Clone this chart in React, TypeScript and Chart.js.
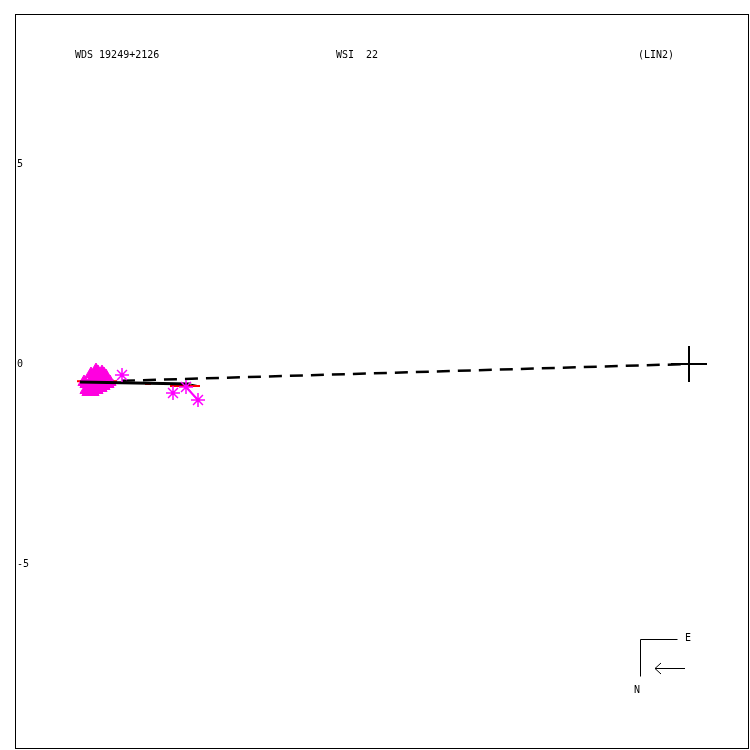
import React, { useEffect, useRef } from "react";
import { Chart, registerables } from "chart.js";

Chart.register(...registerables);

// Units: arcsec offsets relative to the primary (x = East offset, plotted reversed)
const titleLeft = "WDS 19249+2126";
const titleMid = "WSI  22";
const titleRight = "(LIN2)";
const yTickValues = [5, 0, -5];
const yTickLabels = ["5", "0", "-5"];

const xRange = [-1.475, 16.85];
const yRange = [-9.6, 8.75];

const triangleX = [15.075, 15.025, 14.975, 14.925, 14.875, 14.825, 14.775, 14.725, 14.675, 14.625, 14.575, 14.525, 14.475, 14.975, 14.875, 14.775, 15.025, 15.075, 14.725, 14.625, 15.125, 14.825, 14.925, 14.575, 14.9, 14.8, 14.7, 14.95];
const triangleY = [-0.5, -0.65, -0.55, -0.4, -0.3, -0.15, -0.2, -0.35, -0.2, -0.25, -0.4, -0.5, -0.45, -0.6, -0.55, -0.5, -0.7, -0.65, -0.55, -0.55, -0.45, -0.4, -0.45, -0.3, -0.7, -0.65, -0.6, -0.25];

const starX = [14.175, 12.9, 12.575, 12.275];
const starY = [-0.275, -0.725, -0.575, -0.9];

const primaryX = [0];
const primaryY = [0];

const dashedX = [15.225, 0];
const dashedY = [-0.45, 0];

const fitX = [15.225, 12.475];
const fitY = [-0.45, -0.5];
const fitTailX = [12.475, 12.225];
const fitTailY = [-0.5, -0.55];

const residualSegments: number[][] = [
  [15.3, -0.43, 14.925, -0.43],
  [14.55, -0.43, 14.3, -0.43],
  [14.45, -0.35, 14.45, -0.6],
  [12.975, -0.55, 12.225, -0.55],
  [13.6, -0.5, 13.45, -0.5],
];
const magentaSegments: number[][] = [[12.575, -0.575, 12.275, -0.9]];

const compass = { corner: [640, 639], len: 37, arrowFrom: [685, 668], arrowTo: [655, 668] };

function xy(xs: number[], ys: number[]) {
  return xs.map((x, i) => ({ x, y: ys[i] }));
}

export default function App() {
  const ref = useRef<HTMLCanvasElement | null>(null);
  useEffect(() => {
    document.body.style.margin = "0";
    const canvas = ref.current!;
    const datasets: any[] = [
      {
        type: "line",
        data: xy(dashedX, dashedY),
        borderColor: "#000",
        borderWidth: 2.5,
        borderDash: [13, 8],
        pointRadius: 0,
        showLine: true,
        order: 5,
      },
      {
        type: "line",
        data: xy(fitX, fitY),
        borderColor: "#000",
        borderWidth: 3,
        pointRadius: 0,
        showLine: true,
        order: 1,
      },
      {
        type: "line",
        data: xy(fitTailX, fitTailY),
        borderColor: "#000",
        borderWidth: 1,
        pointRadius: 0,
        showLine: true,
        order: 4,
      },
      ...residualSegments.map((s) => ({
        type: "line",
        data: [
          { x: s[0], y: s[1] },
          { x: s[2], y: s[3] },
        ],
        borderColor: "#ff0000",
        borderWidth: 2,
        pointRadius: 0,
        showLine: true,
        order: 3,
      })),
      ...magentaSegments.map((s) => ({
        type: "line",
        data: [
          { x: s[0], y: s[1] },
          { x: s[2], y: s[3] },
        ],
        borderColor: "#ff00ff",
        borderWidth: 2,
        pointRadius: 0,
        showLine: true,
        order: 3,
      })),
      {
        type: "scatter",
        data: xy(triangleX, triangleY),
        pointStyle: "triangle",
        pointRadius: 7,
        backgroundColor: "#ff00e0",
        borderColor: "#ff00e0",
        borderWidth: 1,
        order: 2,
      },
      {
        type: "scatter",
        data: xy(starX, starY),
        pointStyle: "star",
        pointRadius: 7,
        borderColor: "#ff00ff",
        backgroundColor: "#ff00ff",
        borderWidth: 1.5,
        order: 0,
      },
      {
        type: "scatter",
        data: xy(primaryX, primaryY),
        pointStyle: "cross",
        pointRadius: 18,
        borderColor: "#000",
        borderWidth: 2,
        order: 0,
      },
    ];

    const decor = {
      id: "decor",
      afterDraw(chart: any) {
        const ctx = chart.ctx as CanvasRenderingContext2D;
        const a = chart.chartArea;
        ctx.save();
        ctx.strokeStyle = "#000";
        ctx.lineWidth = 1;
        ctx.strokeRect(a.left + 0.5, a.top + 0.5, a.right - a.left, a.bottom - a.top);
        ctx.fillStyle = "#000";
        ctx.font = "10px 'DejaVu Sans Mono'";
        ctx.textBaseline = "middle";
        ctx.textAlign = "left";
        ctx.fillText(titleLeft, 75, 55);
        ctx.fillText(titleMid, 336, 55);
        ctx.fillText(titleRight, 638, 55);
        const ys = chart.scales.y;
        yTickValues.forEach((v, i) => {
          ctx.fillText(yTickLabels[i], a.left + 2, ys.getPixelForValue(v));
        });
        // compass
        const [cx, cy] = compass.corner;
        ctx.beginPath();
        ctx.moveTo(cx + compass.len + 0.5, cy + 0.5);
        ctx.lineTo(cx + 0.5, cy + 0.5);
        ctx.lineTo(cx + 0.5, cy + compass.len + 0.5);
        ctx.stroke();
        ctx.fillText("E", 685, 638);
        ctx.fillText("N", 634, 690);
        const [fx, fy] = compass.arrowFrom;
        const [tx, ty] = compass.arrowTo;
        ctx.beginPath();
        ctx.moveTo(fx, fy + 0.5);
        ctx.lineTo(tx, ty + 0.5);
        ctx.moveTo(tx + 6, ty - 5);
        ctx.lineTo(tx, ty + 0.5);
        ctx.lineTo(tx + 6, ty + 6);
        ctx.stroke();
        ctx.restore();
      },
    };

    const chart = new Chart(canvas, {
      type: "scatter",
      data: { datasets },
      options: {
        animation: false,
        responsive: false,
        events: [],
        layout: { autoPadding: false, padding: { left: 15, top: 14, right: 2, bottom: 2 } },
        plugins: { legend: { display: false }, tooltip: { enabled: false } },
        scales: {
          x: { type: "linear", min: xRange[0], max: xRange[1], reverse: true, display: false },
          y: { type: "linear", min: yRange[0], max: yRange[1], display: false },
        },
      },
      plugins: [decor],
    } as any);
    return () => chart.destroy();
  }, []);
  return <canvas ref={ref} width={750} height={750} style={{ display: "block" }} />;
}
